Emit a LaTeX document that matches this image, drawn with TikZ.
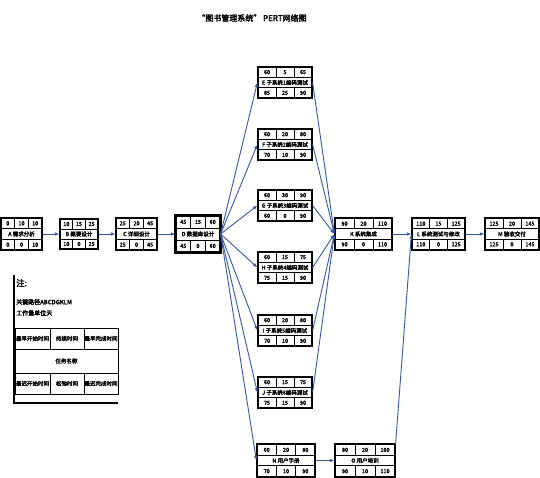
\documentclass[tikz,border=0pt]{standalone}
\usepackage{fontspec}
\setmainfont{Noto Sans CJK SC}[AutoFakeBold=2.5]
\usetikzlibrary{arrows.meta,calc}
\definecolor{arrowblue}{RGB}{52,88,158}
\tikzset{
  pbox/.style={draw, line width=1.2pt, inner sep=0pt, fill=white},
  sep/.style={line width=0.8pt},
  num/.style={font=\fontsize{5.5}{5.5}\selectfont\bfseries, inner sep=0pt},
  lbl/.style={font=\fontsize{5.5}{6}\selectfont\bfseries, inner sep=0pt},
  legtxt/.style={font=\fontsize{5.5}{6}\selectfont\bfseries, inner sep=0pt},
  flow/.style={draw=arrowblue, line width=0.9pt, -{Latex[length=4.5pt,width=3.5pt]}},
}
\def\ptriple#1/#2/#3\relax{\def\pnA{#1}\def\pnB{#2}\def\pnC{#3}}
\newcommand{\pnode}[8]{% name, cx, cy, w, h, top, label, bottom
  \pgfmathsetmacro\pnXl{#2-#4/2}\pgfmathsetmacro\pnXr{#2+#4/2}
  \pgfmathsetmacro\pnYt{#3-#5/2}\pgfmathsetmacro\pnYb{#3+#5/2}
  \pgfmathsetmacro\pnYa{#3-#5/6}\pgfmathsetmacro\pnYc{#3+#5/6}
  \pgfmathsetmacro\pnXa{#2-#4/6}\pgfmathsetmacro\pnXc{#2+#4/6}
  \pgfmathsetmacro\pnYta{(\pnYt+\pnYa)/2}\pgfmathsetmacro\pnYbc{(\pnYc+\pnYb)/2}
  \pgfmathsetmacro\pnXla{(\pnXl+\pnXa)/2}\pgfmathsetmacro\pnXcr{(\pnXc+\pnXr)/2}
  \node[pbox, minimum width=#4, minimum height=#5] (#1) at (#2,#3) {};
  \draw[sep] (\pnXl,\pnYa) -- (\pnXr,\pnYa) (\pnXl,\pnYc) -- (\pnXr,\pnYc)
    (\pnXa,\pnYt) -- (\pnXa,\pnYa) (\pnXc,\pnYt) -- (\pnXc,\pnYa)
    (\pnXa,\pnYc) -- (\pnXa,\pnYb) (\pnXc,\pnYc) -- (\pnXc,\pnYb);
  \draw[line width=1.2pt] (#1.north west) rectangle (#1.south east);
  \ptriple#6\relax
  \node[num] (#1-es) at (\pnXla,\pnYta) {\pnA};
  \node[num] (#1-du) at (#2,\pnYta) {\pnB};
  \node[num] (#1-ef) at (\pnXcr,\pnYta) {\pnC};
  \node[lbl] (#1-nm) at (#2,#3) {#7};
  \ptriple#8\relax
  \node[num] (#1-ls) at (\pnXla,\pnYbc) {\pnA};
  \node[num] (#1-sl) at (#2,\pnYbc) {\pnB};
  \node[num] (#1-lf) at (\pnXcr,\pnYbc) {\pnC};
}
\begin{document}
\begin{tikzpicture}[x=1pt,y=-1pt]
\useasboundingbox (0,0) rectangle (540,477);
\fill[white] (0,0) rectangle (540,477);

\node[font=\fontsize{8}{9}\selectfont\bfseries, inner sep=0pt] (title) at (252,18) {“图书管理系统” PERT网络图};

% nodes
\pnode{A}{21.5}{234}{41}{32}{0/10/10}{A 需求分析}{0/0/10}
\pnode{B}{79}{234}{38}{30}{10/15/25}{B 概要设计}{10/0/25}
\pnode{C}{136.5}{234}{41}{32}{25/20/45}{C 详细设计}{25/0/45}
\pnode{D}{198}{234}{44}{36}{45/15/60}{D 数据库设计}{45/0/60}
\draw[line width=2pt] (D.north west) rectangle (D.south east);

\pnode{E}{285}{82.5}{54}{31}{60/5/65}{E 子系统1编码测试}{85/25/90}
\pnode{F}{285}{144.5}{54}{31}{60/20/80}{F 子系统2编码测试}{70/10/90}
\pnode{G}{285}{205.5}{54}{31}{60/30/90}{G 子系统3编码测试}{60/0/90}
\pnode{H}{285}{267.5}{54}{31}{60/15/75}{H 子系统4编码测试}{75/15/90}
\pnode{I}{285}{330.5}{54}{31}{60/20/80}{I 子系统5编码测试}{70/10/90}
\pnode{J}{285}{392.5}{54}{31}{60/15/75}{J 子系统6编码测试}{75/15/90}

\pnode{K}{363.5}{234}{57}{31}{90/20/110}{K 系统集成}{90/0/110}
\pnode{L}{438.5}{234}{53}{31}{110/15/125}{L 系统测试与修改}{110/0/125}
\pnode{M}{512}{234}{54}{31}{125/20/145}{M 验收交付}{125/0/145}

\pnode{N}{286}{460.5}{58}{32}{60/20/80}{N 用户手册}{70/10/90}
\pnode{O}{365}{460.5}{60}{32}{80/20/100}{O 用户培训}{90/10/110}

% connectors
\draw[flow] (A.east) -- (B.west);
\draw[flow] (B.east) -- (C.west);
\draw[flow] (C.east) -- (D.west);
\foreach \t in {E,F,G,H,I,J,N}{
  \draw[flow] (D.east) -- (\t.west);
}
\foreach \s in {E,F,G,H,I,J}{
  \draw[flow] (\s.east) -- (K.west);
}
\draw[flow] (K.east) -- (L.west);
\draw[flow] (L.east) -- (M.west);
\draw[flow] (N.east) -- (O.west);
\draw[flow] (O.north east) -- (L.west);

% legend
\coordinate (lgtop) at (14,275);
\coordinate (lgcorner) at (14,403);
\coordinate (lgend) at (118,403);
\draw[line width=1.2pt] (lgtop) -- (lgcorner) -- (lgend);
\node[font=\fontsize{8.5}{9}\selectfont\bfseries, anchor=west, inner sep=0pt] (note) at (16,283) {注:};
\node[legtxt, anchor=west, font=\fontsize{6}{7}\selectfont\bfseries] (crit) at (16,302) {关键路径ABCDGKLM};
\node[legtxt, anchor=west, font=\fontsize{6}{7}\selectfont\bfseries] (unit) at (16,313) {工作量单位天};

\draw[line width=1pt] (15,328) rectangle (118,394);
\draw[line width=0.8pt] (15,349) -- (118,349) (15,373) -- (118,373)
  (50,328) -- (50,349) (84,328) -- (84,349)
  (50,373) -- (50,394) (84,373) -- (84,394);
\node[legtxt] (lg1) at (32.5,338.5) {最早开始时间};
\node[legtxt] (lg2) at (67,338.5) {持续时间};
\node[legtxt] (lg3) at (101,338.5) {最早完成时间};
\node[legtxt] (lg4) at (66.5,361) {任务名称};
\node[legtxt] (lg5) at (32.5,383.5) {最迟开始时间};
\node[legtxt] (lg6) at (67,383.5) {松弛时间};
\node[legtxt] (lg7) at (101,383.5) {最迟完成时间};
\end{tikzpicture}
\end{document}
